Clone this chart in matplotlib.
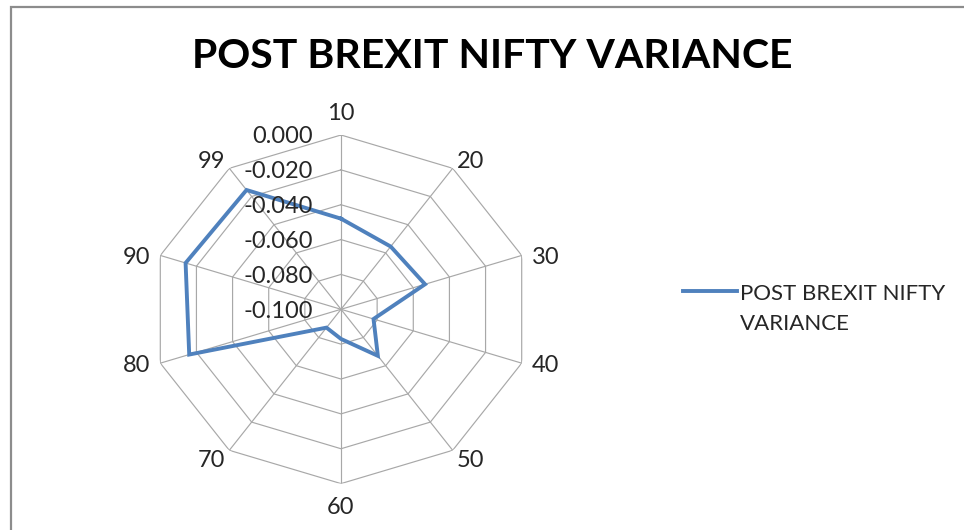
import numpy as np
import matplotlib

matplotlib.use("Agg")
import matplotlib.pyplot as plt
from matplotlib.patches import Rectangle
from matplotlib.lines import Line2D
from matplotlib.legend_handler import HandlerLine2D

categories = ["10", "20", "30", "40", "50", "60", "70", "80", "90", "99"]
variance = [-0.048, -0.0555, -0.0535, -0.082, -0.067, -0.083, -0.087, -0.016, -0.014, -0.0154]
ring_values = [-0.100, -0.080, -0.060, -0.040, -0.020, 0.000]
series_name = "POST BREXIT NIFTY\nVARIANCE"
title = "POST BREXIT NIFTY VARIANCE"

plt.rcParams["font.family"] = ["Lato", "DejaVu Sans"]

grid_col = "#a8a8a8"
line_col = "#4f81bd"
text_col = "#262626"


class FirstLineHandler(HandlerLine2D):
    # Excel puts the legend key next to the first text line, not the middle
    def create_artists(self, legend, orig_handle, xdescent, ydescent, width, height,
                       fontsize, trans):
        artists = super().create_artists(legend, orig_handle, xdescent, ydescent,
                                         width, height, fontsize, trans)
        for a in artists:
            if isinstance(a, Line2D):
                a.set_ydata(np.asarray(a.get_ydata()) + 0.8 * fontsize)
        return artists


def label_place(t):
    # Excel-like anchoring of the category labels around the outer vertex
    s, c = np.sin(t), np.cos(t)
    if abs(s) < 0.1:
        return ("center", "baseline", (0, 11)) if c > 0 else ("center", "top", (0, -10))
    ha = "left" if s > 0 else "right"
    if abs(c) < 0.5:
        return ha, "center_baseline", (7 * np.sign(s), 0)
    va = "baseline" if c > 0 else "top"
    return ha, va, (3 * np.sign(s), 0)


fig = plt.figure(figsize=(9.64, 5.30), dpi=100)
fig.patch.set_facecolor("white")

# outer chart-area frame (only left and top edges are visible in the crop)
fig.patches.append(
    Rectangle((11 / 964, -0.1), 1.2, 1.1 - 7.5 / 530,
              transform=fig.transFigure, fill=False,
              edgecolor="#8c8c8c", linewidth=1.6)
)

ax = fig.add_axes([151 / 964, 46.4 / 530, 380 / 964, 348.6 / 530], projection="polar")
ax.set_theta_zero_location("N")
ax.set_theta_direction(-1)
ax.set_aspect("auto")
ax.set_ylim(ring_values[0], ring_values[-1])
ax.grid(False)
ax.spines["polar"].set_visible(False)
ax.set_yticks([])
ax.set_xticks([])

n = len(categories)
theta = np.arange(n) * 2 * np.pi / n
closed = np.append(theta, theta[0])

# polygon rings and spokes
for rv in ring_values[1:]:
    ax.plot(closed, [rv] * (n + 1), color=grid_col, lw=0.85, zorder=1)
for t in theta:
    ax.plot([t, t], [ring_values[0], ring_values[-1]], color=grid_col, lw=0.85, zorder=1)

ax.plot(closed, np.append(variance, variance[0]), color=line_col, lw=2.8,
        label=series_name, zorder=3, solid_joinstyle="miter")

for t, cat in zip(theta, categories):
    ha, va, off = label_place(t)
    ax.annotate(cat, xy=(t, ring_values[-1]), xytext=off, textcoords="offset points",
                ha=ha, va=va, fontsize=17, color=text_col, annotation_clip=False)

for rv in ring_values:
    ax.annotate(f"{rv:.3f}", xy=(0, rv), xytext=(-20, 0), textcoords="offset points",
                ha="right", va="center_baseline", fontsize=17, color=text_col)

fig.text(492 / 964, 1 - 68.3 / 530, title, ha="center", va="baseline",
         fontsize=29.5, fontweight="bold", color="black")

leg = fig.legend(loc="upper left", bbox_to_anchor=(683 / 964, 1 - 284 / 530),
                 frameon=False, fontsize=16, handlelength=2.45, handletextpad=0.1,
                 labelcolor=text_col, borderaxespad=0, borderpad=0,
                 handler_map={Line2D: FirstLineHandler()})
for txt in leg.get_texts():
    txt.set_linespacing(1.6)

fig.savefig("out.png", dpi=100)
